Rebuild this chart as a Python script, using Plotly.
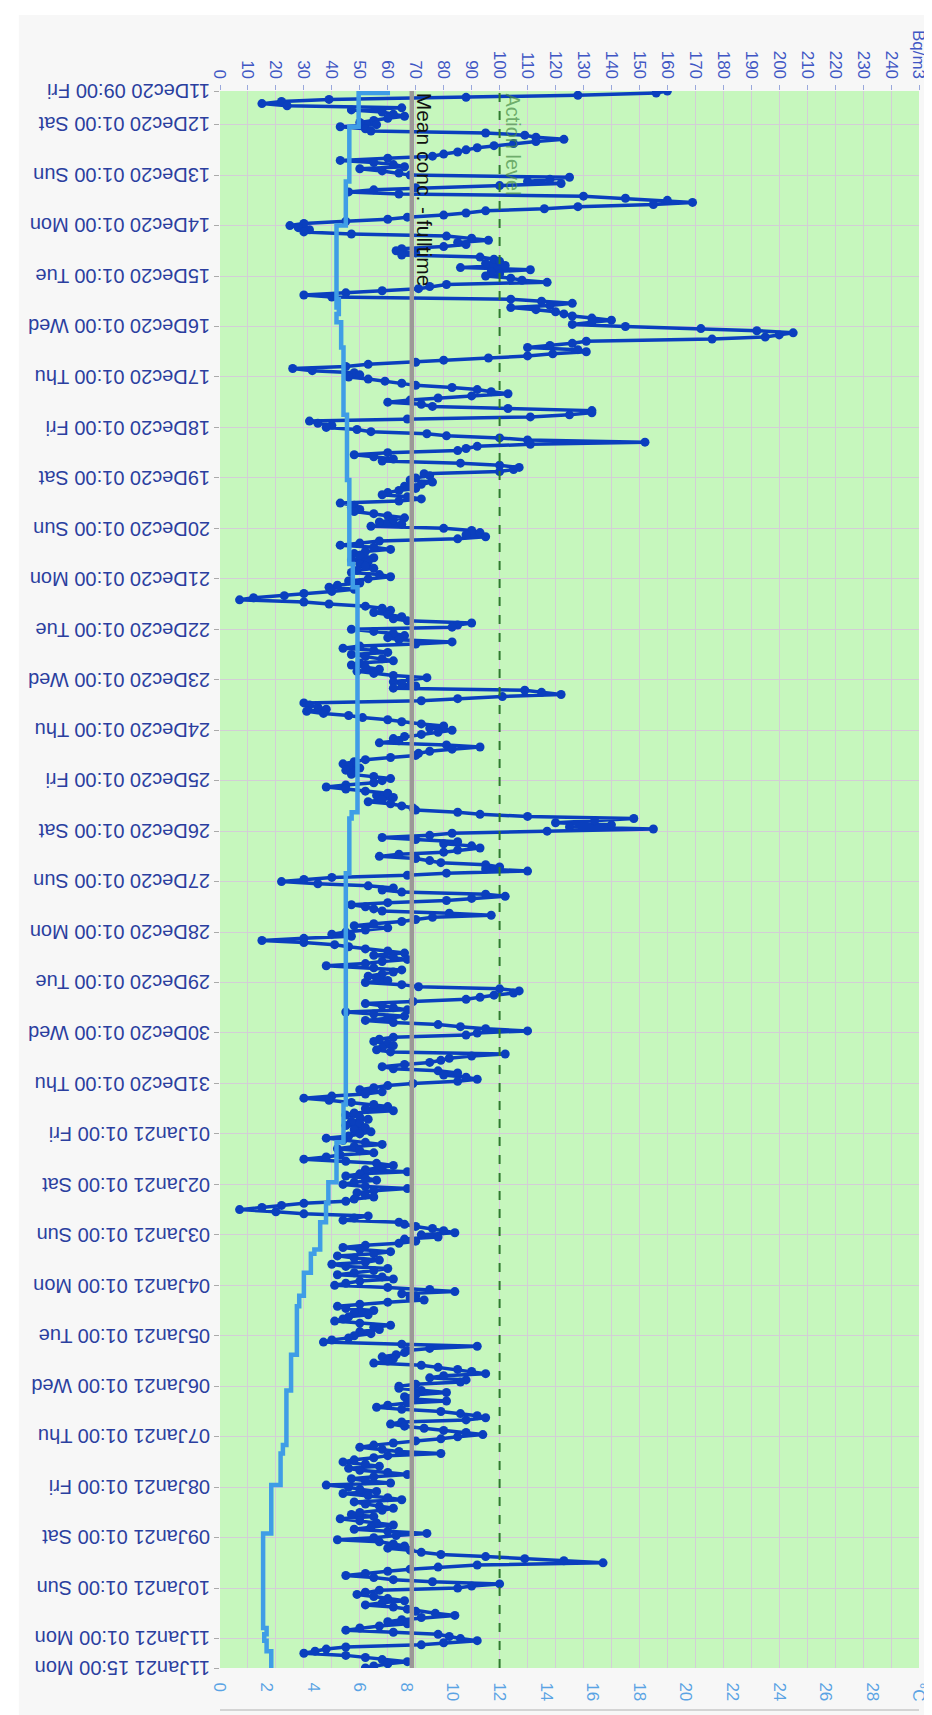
import plotly.graph_objects as go
import pandas as pd

# ---------------- data ----------------
start_time = "2020-12-11 09:00"
# hourly radon concentration, Bq/m3, from 11Dec20 09:00 to 11Jan21 15:00
radon = [
    160,156,128,88,39,22,15,24,65,47,58,62,66,60,55,50,56,43,52,54,95,109,113,123,
    113,105,98,92,88,85,80,76,60,43,55,62,66,50,58,64,68,125,118,110,122,100,70,55,
    46,64,130,145,160,169,155,128,116,95,88,80,67,60,45,30,25,28,32,30,47,81,90,96,
    85,88,80,65,63,70,65,93,98,100,95,102,86,111,97,100,95,104,108,117,81,75,71,58,
    45,30,40,104,115,126,118,104,113,120,123,126,133,140,133,126,145,172,192,205,200,195,176,131,
    126,118,110,128,131,119,110,96,80,70,53,45,26,33,48,50,46,53,59,65,70,83,92,97,
    103,90,78,68,60,72,76,103,133,133,125,111,67,32,35,40,38,49,54,74,81,100,110,152,
    111,92,88,85,60,48,55,62,58,86,100,107,105,100,73,75,70,68,76,72,66,70,64,60,
    58,67,72,64,43,48,47,50,48,55,60,66,62,57,65,54,80,90,93,88,95,85,57,50,
    43,55,61,52,48,50,55,47,53,50,52,55,49,47,57,61,53,46,50,42,39,48,40,30,
    23,12,7,30,39,52,58,61,55,60,65,62,67,90,85,83,47,55,62,66,60,64,83,70,
    50,44,55,60,47,52,58,62,50,47,52,57,49,55,62,74,68,62,65,70,62,109,115,122,
    101,85,72,30,32,35,38,31,37,46,51,60,65,72,80,75,83,78,72,66,62,64,57,81,
    93,83,75,71,70,61,52,48,44,46,50,45,48,47,55,61,58,55,45,38,45,52,60,56,
    62,58,53,61,65,69,70,85,93,110,148,134,120,140,125,155,117,83,75,58,70,85,80,90,
    93,85,80,64,57,70,75,79,95,100,95,110,81,67,40,30,22,35,53,62,58,65,95,102,
    90,81,60,47,52,55,58,82,97,76,70,65,55,48,60,52,45,40,47,30,15,30,41,46,
    52,60,66,55,62,67,58,52,38,55,65,62,58,53,56,60,52,65,71,100,107,105,98,93,
    88,69,52,58,62,67,45,55,66,60,52,62,78,86,95,110,92,88,62,57,55,60,62,58,
    56,61,102,90,82,79,75,66,58,62,78,85,80,88,92,85,69,60,55,50,58,52,40,30,
    39,47,55,60,52,62,48,45,50,53,47,50,45,52,48,54,50,46,38,44,52,58,48,42,
    50,55,43,38,30,45,56,62,58,52,67,50,45,52,56,48,44,52,67,55,49,52,55,48,
    45,30,22,15,7,20,30,53,48,44,64,66,70,76,80,84,72,78,66,70,64,52,44,50,
    61,55,42,48,57,52,40,45,60,55,48,42,58,62,50,45,41,60,75,84,65,70,68,73,
    60,50,42,45,55,48,53,46,44,41,50,61,55,57,50,54,48,46,40,37,65,92,75,67,
    66,63,58,62,60,55,72,78,85,90,95,80,75,88,86,70,64,64,72,81,70,66,67,81,
    67,60,56,65,79,86,92,95,88,65,61,66,73,80,88,94,85,79,70,62,55,50,58,64,
    79,60,55,48,44,52,57,46,50,60,67,55,47,52,61,38,46,50,56,44,53,60,65,48,
    52,57,62,58,50,47,55,43,50,56,62,54,48,60,74,63,55,42,57,62,66,60,68,72,
    79,95,109,123,137,92,78,68,60,52,45,55,62,76,100,90,85,57,52,49,55,60,66,58,
    52,62,67,70,77,84,72,65,60,67,57,50,45,62,78,82,86,92,80,72,45,38,34,30,
    45,52,58,67,60,55,52,
]
# temperature, degC, at the hours (from start) where it changes
temp_hours = [0, 1, 17, 43, 64, 99, 101, 103, 106, 110, 122, 154, 185, 225, 236, 343, 346,
              372, 482, 500, 519, 529, 538, 551, 553, 562, 573, 578, 601, 618, 644, 648,
              663, 686, 731, 734, 737, 742, 750]
temp_vals = [7.2, 5.95, 5.55, 5.4, 5.0, 5.1, 5.0, 5.1, 5.0, 5.2, 5.3, 5.45, 5.55, 5.7, 5.9,
             5.65, 5.55, 5.4, 5.3, 5.0, 4.65, 4.55, 4.3, 4.05, 3.9, 3.6, 3.4, 3.3, 3.05,
             2.85, 2.7, 2.6, 2.2, 1.85, 2.0, 1.9, 2.0, 2.2, 2.2]
mean_conc = 68.6
action_level = 100
bq_ticks = list(range(0, 250, 10))
bq_unit = "Bq/m3"
c_ticks = list(range(0, 30, 2))
c_unit = "°C"

# ---------------- derived ----------------
t0 = pd.Timestamp(start_time)
radon_times = [t0 + pd.Timedelta(hours=h) for h in range(len(radon))]
temp_times = [t0 + pd.Timedelta(hours=h) for h in temp_hours]
t_end = radon_times[-1]
date_ticks = [t0] + list(pd.date_range("2020-12-12 01:00", "2021-01-11 01:00", freq="D")) + [t_end]
date_text = [d.strftime("%d%b%y %H:%M %a") for d in date_ticks]

PLOT_W = 702.0
PLOT_H = 1619.0
YLOW = 42 / PLOT_H

fig = go.Figure()
fig.add_trace(go.Scatter(x=temp_vals, y=temp_times, xaxis="x2", yaxis="y", mode="lines",
                         line=dict(color="#3f9de6", width=4.5, shape="vh"), name="Temp"))
fig.add_trace(go.Scatter(x=radon, y=radon_times, xaxis="x", yaxis="y", mode="lines+markers",
                         line=dict(color="#0a3fbe", width=3.5),
                         marker=dict(color="#0a3fbe", size=9), name="Radon"))

# page background and plot background
fig.add_shape(type="rect", xref="paper", yref="paper", x0=-202/PLOT_W, x1=1.05, y0=-13/PLOT_H,
              y1=1 + 76/PLOT_H, fillcolor="#f7f7f7", line=dict(width=0), layer="below")
fig.add_shape(type="rect", xref="x domain", yref="y domain", x0=0, x1=1, y0=0, y1=1,
              fillcolor="#c6f7bd", line=dict(width=0), layer="below")
# bottom axis line (below the degC labels)
fig.add_shape(type="line", xref="paper", yref="paper", x0=0, x1=1, y0=0, y1=0,
              line=dict(color="#c8c8c8", width=1.5))
fig.add_shape(type="line", xref="x", yref="y domain", x0=mean_conc, x1=mean_conc, y0=0, y1=1,
              line=dict(color="#9c9898", width=4.5))
fig.add_shape(type="line", xref="x", yref="y domain", x0=action_level, x1=action_level, y0=0, y1=1,
              line=dict(color="#2f7a2f", width=2, dash="dash"))
fig.add_annotation(text="Mean conc. - fulltime", x=mean_conc, xref="x", y=1, yref="y domain",
                   xanchor="left", yanchor="top", textangle=90, showarrow=False,
                   font=dict(size=21, color="#111111", family="Liberation Sans"), xshift=0)
fig.add_annotation(text="Action level", x=action_level, xref="x", y=1, yref="y domain",
                   xanchor="left", yanchor="top", textangle=90, showarrow=False,
                   font=dict(size=20, color="rgba(70,140,70,0.7)", family="Liberation Sans"), xshift=0)

# date labels, upside down as in the reference
for d, txt in zip(date_ticks, date_text):
    fig.add_annotation(text=txt, x=0, xref="paper", xshift=-8, xanchor="right",
                       y=d, yref="y", yanchor="middle", textangle=180, showarrow=False,
                       font=dict(size=20, color="#2b3f9f", family="Liberation Sans"))

fig.update_layout(
    width=932, height=1715,
    margin=dict(l=212, r=18, t=83, b=13),
    paper_bgcolor="#ffffff", plot_bgcolor="rgba(0,0,0,0)",
    showlegend=False,
    font=dict(family="Liberation Sans"),
    xaxis=dict(side="top", range=[0, 250], tickvals=bq_ticks + [250], anchor="y",
               ticktext=[str(v) for v in bq_ticks] + [bq_unit], tickangle=90,
               tickfont=dict(size=17, color="#3f56c4"), showgrid=True, gridcolor="#d3cdd6",
               zeroline=False, showline=False, ticks="outside", ticklen=5, tickcolor="#9aa8dc"),
    xaxis2=dict(overlaying="x", side="bottom", range=[0, 30], tickvals=c_ticks + [30],
                ticktext=[str(v) for v in c_ticks] + [c_unit], tickangle=90,
                tickfont=dict(size=17, color="#5aa3e4"), showgrid=False, zeroline=False,
                anchor="y", showline=False, ticks="outside", ticklen=10, tickcolor="rgba(0,0,0,0)"),
    yaxis=dict(type="date", range=[t_end, t0], tickvals=date_ticks, showticklabels=False,
               domain=[YLOW, 1], showgrid=True,
               gridcolor="#d3cdd6", zeroline=False, showline=False, ticks="outside",
               ticklen=5, tickcolor="#aaaaaa"),
)
fig.write_html("out.html")
